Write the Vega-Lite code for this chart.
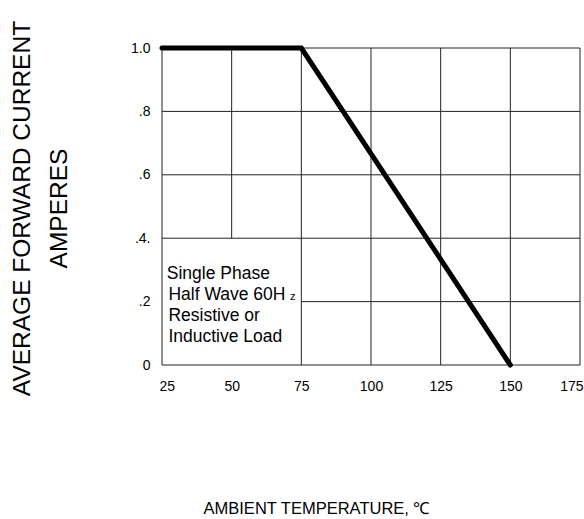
{
  "$schema": "https://vega.github.io/schema/vega-lite/v6.json",
  "width": 418,
  "height": 317,
  "autosize": {"type": "none"},
  "padding": {"left": 162, "top": 48, "right": 4, "bottom": 154},
  "background": "white",
  "config": {"view": {"stroke": null}, "font": "Liberation Sans"},
  "datasets": {
    "curve": [
      {"temp": 25, "amps": 1.0},
      {"temp": 75, "amps": 1.0},
      {"temp": 150, "amps": 0.0}
    ],
    "grid": [
      {"x1": 25, "x2": 25, "y1": 0, "y2": 1},
      {"x1": 50, "x2": 50, "y1": 0.4, "y2": 1},
      {"x1": 75, "x2": 75, "y1": 0, "y2": 1},
      {"x1": 100, "x2": 100, "y1": 0, "y2": 1},
      {"x1": 125, "x2": 125, "y1": 0, "y2": 1},
      {"x1": 150, "x2": 150, "y1": 0, "y2": 1},
      {"x1": 175, "x2": 175, "y1": 0, "y2": 1},
      {"x1": 25, "x2": 175, "y1": 0, "y2": 0},
      {"x1": 75, "x2": 175, "y1": 0.2, "y2": 0.2},
      {"x1": 25, "x2": 175, "y1": 0.4, "y2": 0.4},
      {"x1": 25, "x2": 175, "y1": 0.6, "y2": 0.6},
      {"x1": 25, "x2": 175, "y1": 0.8, "y2": 0.8},
      {"x1": 25, "x2": 175, "y1": 1.0, "y2": 1.0}
    ],
    "note": [
      {"x": 26.7, "y": 0.271, "label": "Single Phase"},
      {"x": 27.3, "y": 0.205, "label": "Half Wave 60H"},
      {"x": 27.3, "y": 0.139, "label": "Resistive or"},
      {"x": 27.3, "y": 0.071, "label": "Inductive Load"}
    ]
  },
  "layer": [
    {
      "data": {"name": "grid"},
      "mark": {"type": "rule", "color": "#222222", "strokeWidth": 1},
      "encoding": {
        "x": {
          "field": "x1", "type": "quantitative",
          "title": "AMBIENT TEMPERATURE, ℃",
          "scale": {"domain": [25, 175], "nice": false, "zero": false},
          "axis": {
            "values": [25, 50, 75, 100, 125, 150, 175],
            "grid": false, "domain": false, "ticks": false,
            "labelFontSize": 14, "labelColor": "#000000", "labelPadding": 14,
            "labelFlush": true, "labelFlushOffset": 3,
            "titleFont": "Liberation Sans",
            "titleFontSize": 16.5, "titleFontWeight": "normal", "titleColor": "#000000",
            "titleX": 154, "titleY": 148, "titleAlign": "center", "titleBaseline": "alphabetic"
          }
        },
        "x2": {"field": "x2"},
        "y": {
          "field": "y1", "type": "quantitative",
          "title": ["AVERAGE FORWARD CURRENT", "AMPERES"],
          "scale": {"domain": [0, 1], "nice": false},
          "axis": {
            "values": [0, 0.2, 0.4, 0.6, 0.8, 1.0],
            "labelExpr": "datum.value == 1 ? '1.0' : datum.value == 0 ? '0' : datum.value == 0.2 ? '.2' : datum.value == 0.4 ? '.4.' : datum.value == 0.6 ? '.6' : '.8'",
            "grid": false, "domain": false, "ticks": false,
            "labelFontSize": 14, "labelColor": "#000000", "labelPadding": 12,
            "titleFontSize": 24.5, "titleFontWeight": "normal", "titleColor": "#000000",
            "titleLineHeight": 37, "titleAngle": -90,
            "titleX": -152, "titleY": 160, "titleAlign": "center", "titleBaseline": "top"
          }
        },
        "y2": {"field": "y2"}
      }
    },
    {
      "data": {"name": "note"},
      "mark": {"type": "text", "align": "left", "baseline": "alphabetic", "fontSize": 17.5, "color": "#000000"},
      "encoding": {
        "x": {"field": "x", "type": "quantitative", "title": "AMBIENT TEMPERATURE, ℃"},
        "y": {"field": "y", "type": "quantitative", "title": ["AVERAGE FORWARD CURRENT", "AMPERES"]},
        "text": {"field": "label", "type": "nominal"}
      }
    },
    {
      "data": {"values": [{"t": "z"}]},
      "mark": {"type": "text", "align": "left", "baseline": "alphabetic", "fontSize": 11, "color": "#000000"},
      "encoding": {
        "x": {"datum": 70.9, "type": "quantitative", "title": "AMBIENT TEMPERATURE, ℃"},
        "y": {"datum": 0.205, "type": "quantitative", "title": ["AVERAGE FORWARD CURRENT", "AMPERES"]},
        "text": {"field": "t", "type": "nominal"}
      }
    },
    {
      "data": {"name": "curve"},
      "mark": {"type": "line", "color": "#000000", "strokeWidth": 5, "strokeCap": "round", "strokeJoin": "miter"},
      "encoding": {
        "x": {"field": "temp", "type": "quantitative", "title": "AMBIENT TEMPERATURE, ℃"},
        "y": {"field": "amps", "type": "quantitative", "title": ["AVERAGE FORWARD CURRENT", "AMPERES"]}
      }
    }
  ]
}
